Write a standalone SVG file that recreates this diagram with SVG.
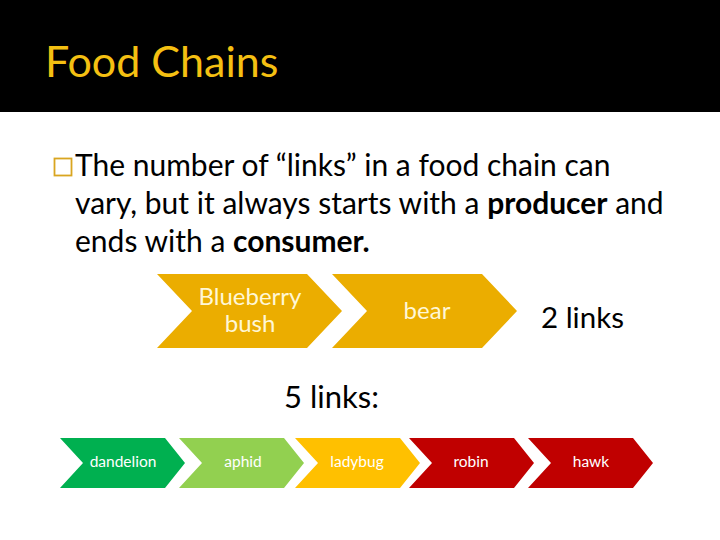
<svg xmlns="http://www.w3.org/2000/svg" width="720" height="540" viewBox="0 0 720 540">
<style>
text{font-family:Lato,"Open Sans","Liberation Sans",sans-serif}
.top{fill:#EBAD00}
.tt{fill:#FFF7D6;font-size:24px;text-anchor:middle}
.bt{fill:#FFFFFF;font-size:15.5px;text-anchor:middle}
.body{fill:#000;font-size:30px}
</style>
<defs>
<polygon id="chevT" points="0,0 150,0 185,37 150,74 0,74 35,37"/>
<polygon id="chevB" points="0,0 105,0 125,25 105,50 0,50 23,25"/>
</defs>
<rect width="720" height="540" fill="#FFFFFF"/>
<rect width="720" height="112" fill="#000000"/>
<text x="45" y="77" font-size="43" fill="#F5C012">Food Chains</text>
<rect x="54.5" y="158.5" width="17" height="17" fill="none" stroke="#D9A520" stroke-width="1.8"/>
<text class="body" x="75" y="176">The number of “links” in a food chain can</text>
<text class="body" x="75" y="214">vary, but it always starts with a <tspan font-weight="bold">producer</tspan> and</text>
<text class="body" x="75" y="252">ends with a <tspan font-weight="bold">consumer.</tspan></text>
<g id="blueberry">
<use href="#chevT" x="157" y="274" class="top"/>
<text class="tt" x="250" y="305">Blueberry</text>
<text class="tt" x="250" y="332">bush</text>
</g>
<g id="bear">
<use href="#chevT" x="332" y="274" class="top"/>
<text class="tt" x="427" y="319">bear</text>
</g>
<text x="541" y="328" font-size="29.5" fill="#000">2 links</text>
<text x="284" y="408" font-size="31" fill="#000">5 links:</text>
<g id="dandelion">
<use href="#chevB" x="60" y="438" fill="#00B050"/>
<text class="bt" x="123" y="467">dandelion</text>
</g>
<g id="aphid">
<use href="#chevB" x="179" y="438" fill="#92D050"/>
<text class="bt" x="243" y="467">aphid</text>
</g>
<g id="ladybug">
<use href="#chevB" x="295" y="438" fill="#FFC000"/>
<text class="bt" x="357" y="467">ladybug</text>
</g>
<g id="robin">
<use href="#chevB" x="409" y="438" fill="#C00000"/>
<text class="bt" x="471" y="467">robin</text>
</g>
<g id="hawk">
<use href="#chevB" x="528" y="438" fill="#C00000"/>
<text class="bt" x="591" y="467">hawk</text>
</g>
<g id="connectors"/>
</svg>
